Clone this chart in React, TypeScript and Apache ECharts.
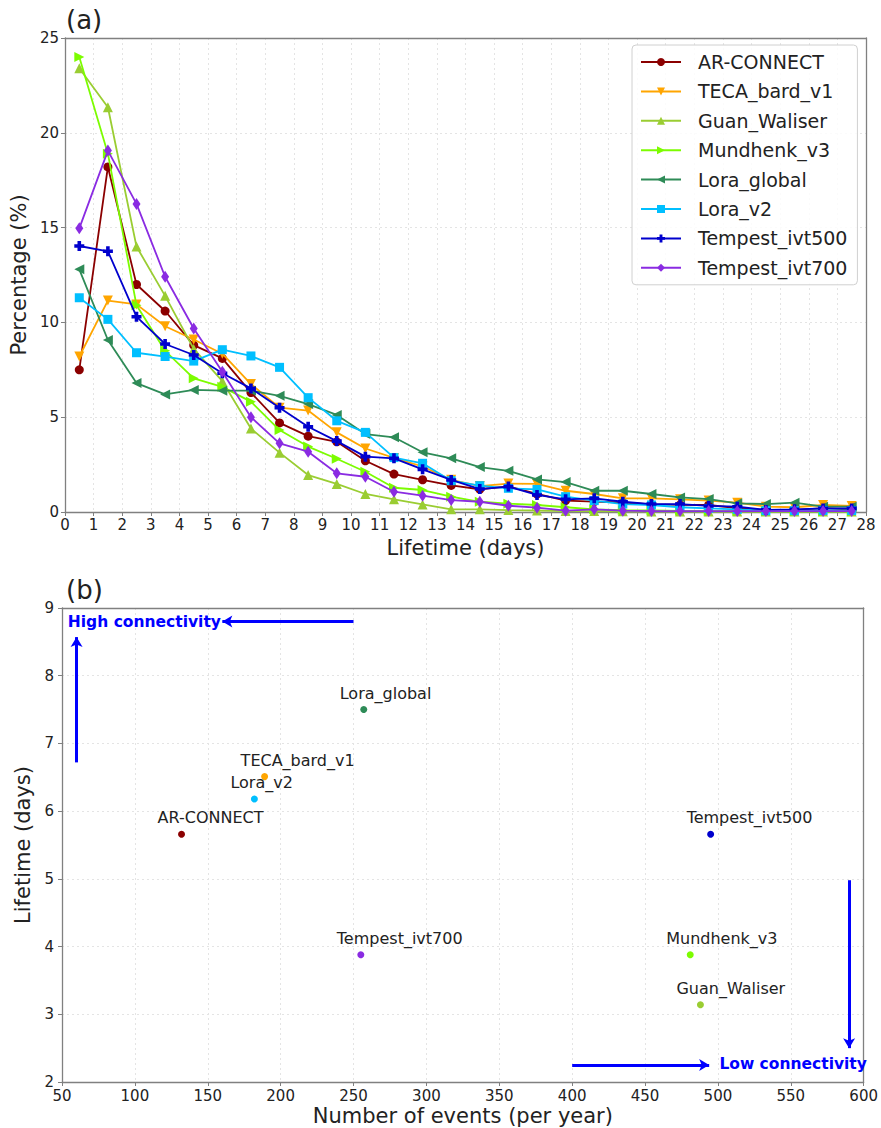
import React, { useEffect, useRef } from "react";
import * as echarts from "echarts";

const days = [0.5, 1.5, 2.5, 3.5, 4.5, 5.5, 6.5, 7.5, 8.5, 9.5, 10.5, 11.5, 12.5, 13.5, 14.5, 15.5, 16.5, 17.5, 18.5, 19.5, 20.5, 21.5, 22.5, 23.5, 24.5, 25.5, 26.5, 27.5];

const arConnect = [7.5, 18.2, 12.0, 10.6, 8.8, 8.1, 6.3, 4.7, 4.0, 3.7, 2.7, 2.0, 1.7, 1.4, 1.2, 1.35, 0.95, 0.6, 0.55, 0.5, 0.4, 0.38, 0.37, 0.2, 0.1, 0.1, 0.2, 0.12];
const tecaBard = [8.2, 11.15, 10.95, 9.8, 9.1, 8.35, 6.75, 5.5, 5.35, 4.2, 3.35, 2.85, 2.4, 1.7, 1.37, 1.5, 1.48, 1.12, 0.95, 0.72, 0.72, 0.67, 0.6, 0.49, 0.28, 0.25, 0.37, 0.32];
const guanWaliser = [23.4, 21.35, 14.0, 11.4, 8.6, 6.9, 4.4, 3.13, 1.95, 1.48, 0.95, 0.67, 0.4, 0.14, 0.14, 0.1, 0.08, 0.05, 0.05, 0.04, 0.03, 0.03, 0.02, 0.02, 0.02, 0.02, 0.02, 0.02];
const mundhenk = [24.0, 18.9, 10.9, 8.5, 7.05, 6.6, 5.82, 4.32, 3.45, 2.81, 2.12, 1.28, 1.16, 0.81, 0.54, 0.44, 0.37, 0.25, 0.14, 0.1, 0.08, 0.06, 0.05, 0.05, 0.04, 0.04, 0.03, 0.03];
const loraGlobal = [12.8, 9.07, 6.8, 6.2, 6.44, 6.4, 6.4, 6.13, 5.69, 5.12, 4.11, 3.94, 3.15, 2.83, 2.37, 2.17, 1.72, 1.58, 1.12, 1.12, 0.95, 0.77, 0.68, 0.46, 0.42, 0.49, 0.28, 0.28];
const loraV2 = [11.3, 10.16, 8.4, 8.2, 7.96, 8.56, 8.23, 7.63, 6.03, 4.81, 4.2, 2.87, 2.57, 1.65, 1.39, 1.25, 1.19, 0.81, 0.6, 0.42, 0.37, 0.25, 0.19, 0.14, 0.07, 0.07, 0.08, 0.08];
const tempest500 = [14.03, 13.75, 10.3, 8.86, 8.28, 7.32, 6.52, 5.5, 4.5, 3.74, 2.92, 2.83, 2.25, 1.69, 1.21, 1.34, 0.9, 0.67, 0.72, 0.54, 0.42, 0.42, 0.32, 0.28, 0.11, 0.14, 0.19, 0.19];
const tempest700 = [14.96, 19.06, 16.25, 12.41, 9.68, 7.4, 5.0, 3.62, 3.18, 2.04, 1.86, 1.07, 0.86, 0.63, 0.54, 0.33, 0.23, 0.07, 0.14, 0.07, 0.05, 0.05, 0.05, 0.05, 0.05, 0.05, 0.05, 0.05];

const seriesNames = ["AR-CONNECT", "TECA_bard_v1", "Guan_Waliser", "Mundhenk_v3", "Lora_global", "Lora_v2", "Tempest_ivt500", "Tempest_ivt700"];
const seriesValues = [arConnect, tecaBard, guanWaliser, mundhenk, loraGlobal, loraV2, tempest500, tempest700];
const seriesColors = ["#8B0000", "#FFA500", "#9ACD32", "#7CFC00", "#2E8B57", "#00BFFF", "#0000CD", "#8A2BE2"];

const scatterNames = ["AR-CONNECT", "TECA_bard_v1", "Guan_Waliser", "Mundhenk_v3", "Lora_global", "Lora_v2", "Tempest_ivt500", "Tempest_ivt700"];
const scatterEvents = [132, 189, 488, 481, 257, 182, 495, 255];
const scatterLifetime = [5.66, 6.51, 3.14, 3.88, 7.5, 6.18, 5.66, 3.88];

const FONT = "DejaVu Sans";
const PLUS = "path://M3.2,0H6.8V3.2H10V6.8H6.8V10H3.2V6.8H0V3.2H3.2Z";

const markerDefs: any[] = [
  { symbol: "circle", size: 9, rotate: 0 },
  { symbol: "triangle", size: 10, rotate: 180 },
  { symbol: "triangle", size: 10, rotate: 0 },
  { symbol: "triangle", size: 10, rotate: -90 },
  { symbol: "triangle", size: 10, rotate: 90 },
  { symbol: "rect", size: 9, rotate: 0 },
  { symbol: PLUS, size: 10, rotate: 0 },
  { symbol: "diamond", size: [8, 12], rotate: 0 },
];

export default function App() {
  const ref = useRef<HTMLDivElement>(null);
  useEffect(() => {
    if (!ref.current) return;
    const chart = echarts.init(ref.current, undefined, { renderer: "svg" });
    const axisColor = "#808080";
    const gridLine = { show: true, lineStyle: { color: "#e4e4e4", type: [2, 3] as any, width: 1 } };
    const tickLabel = { color: "#222", fontSize: 15, fontFamily: FONT };
    const axisName = { color: "#222", fontSize: 21, fontFamily: FONT };
    const frameAxis = (extra: any) => ({
      type: "value",
      axisLine: { show: true, onZero: false, lineStyle: { color: axisColor, width: 1.3 } },
      axisTick: { show: false },
      axisLabel: { show: false },
      splitLine: { show: false },
      ...extra,
    });

    const lineSeries = seriesNames.map((name, i) => ({
      type: "line",
      name,
      xAxisIndex: 0,
      yAxisIndex: 0,
      data: days.map((d, j) => [d, seriesValues[i][j]]),
      symbol: markerDefs[i].symbol,
      symbolSize: markerDefs[i].size,
      symbolRotate: markerDefs[i].rotate,
      showAllSymbol: true,
      color: seriesColors[i],
      lineStyle: { width: 1.8, color: seriesColors[i] },
      itemStyle: { color: seriesColors[i] },
      z: 3 + i,
    }));

    const scatterSeries = {
      type: "scatter",
      name: "events",
      xAxisIndex: 1,
      yAxisIndex: 1,
      symbolSize: 7,
      data: scatterNames.map((n, i) => ({
        name: n,
        value: [scatterEvents[i], scatterLifetime[i]],
        itemStyle: { color: seriesColors[i], opacity: 1 },
      })),
      label: {
        show: true,
        position: "top",
        align: "left",
        offset: [-24, 0],
        distance: 5,
        formatter: (p: any) => p.name,
        color: "#222",
        fontSize: 16,
        fontFamily: FONT,
      },
    };

    const arrowLine = { color: "#0000FF", width: 3, type: "solid", opacity: 1 };
    const annotSeries = {
      type: "scatter",
      name: "annot",
      xAxisIndex: 1,
      yAxisIndex: 1,
      symbolSize: 0,
      silent: true,
      itemStyle: { opacity: 1, color: "#0000FF" },
      data: [
        { name: "High connectivity", value: [54, 8.8] },
        { name: "Low connectivity", value: [501, 2.27] },
      ],
      label: {
        show: true,
        position: "right",
        distance: 0,
        formatter: (p: any) => p.name,
        color: "#0000FF",
        opacity: 1,
        fontWeight: "bold",
        fontSize: 15.5,
        fontFamily: FONT,
      },
      markLine: {
        silent: true,
        symbol: ["none", "arrow"],
        symbolSize: [9, 10],
        label: { show: false },
        lineStyle: arrowLine,
        data: [
          [{ coord: [250, 8.8] }, { coord: [160, 8.8] }],
          [{ coord: [60, 6.72] }, { coord: [60, 8.57] }],
          [{ coord: [400, 2.25] }, { coord: [494, 2.25] }],
          [{ coord: [590, 4.98] }, { coord: [590, 2.5] }],
        ],
      },
    };

    chart.setOption({
      animation: false,
      backgroundColor: "#ffffff",
      title: [
        { text: "(a)", left: 61, top: 2, textStyle: { fontSize: 26, fontWeight: "normal", color: "#222", fontFamily: FONT } },
        { text: "(b)", left: 61, top: 572, textStyle: { fontSize: 26, fontWeight: "normal", color: "#222", fontFamily: FONT } },
      ],
      legend: {
        data: seriesNames,
        orient: "vertical",
        left: 632,
        top: 45,
        padding: [6, 10, 6, 8],
        itemWidth: 40,
        itemHeight: 10,
        itemGap: 7.4,
        backgroundColor: "rgba(255,255,255,0.85)",
        borderColor: "#d0d0d0",
        borderWidth: 1,
        borderRadius: 4,
        textStyle: { color: "#222", fontSize: 19, fontFamily: FONT, lineHeight: 22, padding: [0, 0, 0, 12] },
      },
      grid: [
        { left: 62, top: 38, width: 804, height: 474, show: false },
        { left: 62, top: 608, width: 804, height: 474, show: false },
      ],
      xAxis: [
        {
          type: "value", gridIndex: 0, min: 0, max: 28, interval: 1,
          name: "Lifetime (days)", nameLocation: "middle", nameGap: 25, nameTextStyle: axisName,
          axisLine: { onZero: false, lineStyle: { color: axisColor, width: 1.3 } },
          axisTick: { show: true, length: 4, lineStyle: { color: axisColor } },
          axisLabel: { ...tickLabel, margin: 5 },
          splitLine: gridLine,
        },
        {
          type: "value", gridIndex: 1, min: 50, max: 600, interval: 50,
          name: "Number of events (per year)", nameLocation: "middle", nameGap: 23, nameTextStyle: axisName,
          axisLine: { onZero: false, lineStyle: { color: axisColor, width: 1.3 } },
          axisTick: { show: true, length: 4, lineStyle: { color: axisColor } },
          axisLabel: { ...tickLabel, margin: 6 },
          splitLine: gridLine,
        },
        frameAxis({ gridIndex: 0, position: "top", min: 0, max: 28 }),
        frameAxis({ gridIndex: 1, position: "top", min: 50, max: 600 }),
      ],
      yAxis: [
        {
          type: "value", gridIndex: 0, min: 0, max: 25, interval: 5,
          name: "Percentage (%)", nameLocation: "middle", nameGap: 28, nameTextStyle: axisName,
          axisLine: { show: true, onZero: false, lineStyle: { color: axisColor, width: 1.3 } },
          axisTick: { show: true, length: 4, lineStyle: { color: axisColor } },
          axisLabel: { ...tickLabel, margin: 6 },
          splitLine: gridLine,
        },
        {
          type: "value", gridIndex: 1, min: 2, max: 9, interval: 1,
          name: "Lifetime (days)", nameLocation: "middle", nameGap: 28, nameTextStyle: axisName,
          axisLine: { show: true, onZero: false, lineStyle: { color: axisColor, width: 1.3 } },
          axisTick: { show: true, length: 4, lineStyle: { color: axisColor } },
          axisLabel: { ...tickLabel, margin: 8 },
          splitLine: gridLine,
        },
        frameAxis({ gridIndex: 0, position: "right", min: 0, max: 25 }),
        frameAxis({ gridIndex: 1, position: "right", min: 2, max: 9 }),
      ],
      series: [...lineSeries, scatterSeries, annotSeries],
    } as any);
    return () => chart.dispose();
  }, []);
  return <div ref={ref} style={{ position: "absolute", left: 0, top: 0, width: 881, height: 1128 }} />;
}
